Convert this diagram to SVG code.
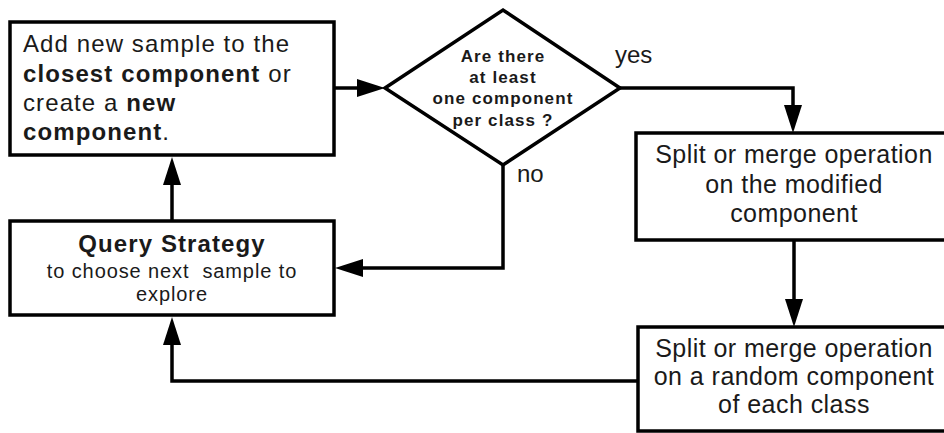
<svg xmlns="http://www.w3.org/2000/svg" width="944" height="433" viewBox="0 0 944 433">
<defs>
<style>
.box{fill:#fff;stroke:#000;stroke-width:3.5}
.con{fill:none;stroke:#000;stroke-width:3.5}
.t{font-family:"Liberation Sans",Arial,sans-serif;fill:#1a1a1a}
.b{font-weight:bold}
.c{text-anchor:middle}
.l1{font-size:24px;letter-spacing:1.1px}
.d{font-size:17px;letter-spacing:1.1px;font-weight:bold}
.r{font-size:25px;letter-spacing:0.45px}
.q{font-size:20px;letter-spacing:0.9px}
</style>
<marker id="arr" markerUnits="userSpaceOnUse" markerWidth="28" markerHeight="18" refX="0" refY="9" orient="auto" overflow="visible">
<path d="M0,0 L28,9 L0,18 z" fill="#000"/>
</marker>
</defs>
<rect width="944" height="433" fill="#fff"/>
<g id="connectors">
<path class="con" d="M334,88 H357" marker-end="url(#arr)"/>
<path class="con" d="M620,88 H793 V105" marker-end="url(#arr)"/>
<path class="con" d="M503,165 V268 H363" marker-end="url(#arr)"/>
<path class="con" d="M794,240 V299" marker-end="url(#arr)"/>
<path class="con" d="M638,381 H172 V345" marker-end="url(#arr)"/>
<path class="con" d="M172,221 V185" marker-end="url(#arr)"/>
</g>
<g id="add-sample">
<rect class="box" x="10" y="22" width="324" height="133"/>
<text class="t l1" x="23" y="52">Add new sample to the</text>
<text class="t l1" x="23" y="82"><tspan class="b">closest component</tspan> or</text>
<text class="t l1" x="23" y="111">create a <tspan class="b">new</tspan></text>
<text class="t l1" x="23" y="140"><tspan class="b">component</tspan>.</text>
</g>
<g id="decision">
<polygon class="box" points="385,88 503,10 620,88 503,165"/>
<text class="t d c" x="503" y="62">Are there</text>
<text class="t d c" x="503" y="83">at least</text>
<text class="t d c" x="503" y="104">one component</text>
<text class="t d c" x="503" y="126">per class ?</text>
</g>
<text class="t" font-size="24" x="615" y="63">yes</text>
<text class="t" font-size="24" x="517" y="182">no</text>
<g id="split-modified">
<rect class="box" x="636" y="133" width="330" height="107"/>
<text class="t r c" x="794" y="163">Split or merge operation</text>
<text class="t r c" x="794" y="193">on the modified</text>
<text class="t r c" x="794" y="222">component</text>
</g>
<g id="split-random">
<rect class="box" x="638" y="327" width="330" height="104"/>
<text class="t r c" x="794" y="357">Split or merge operation</text>
<text class="t r c" x="794" y="385">on a random component</text>
<text class="t r c" x="794" y="413">of each class</text>
</g>
<g id="query-strategy">
<rect class="box" x="10" y="221" width="324" height="94"/>
<text class="t b c" font-size="24" letter-spacing="1.1" x="172" y="252">Query Strategy</text>
<text class="t q c" x="172" y="278" style="white-space:pre">to choose next  sample to</text>
<text class="t q c" x="172" y="301">explore</text>
</g>
</svg>
